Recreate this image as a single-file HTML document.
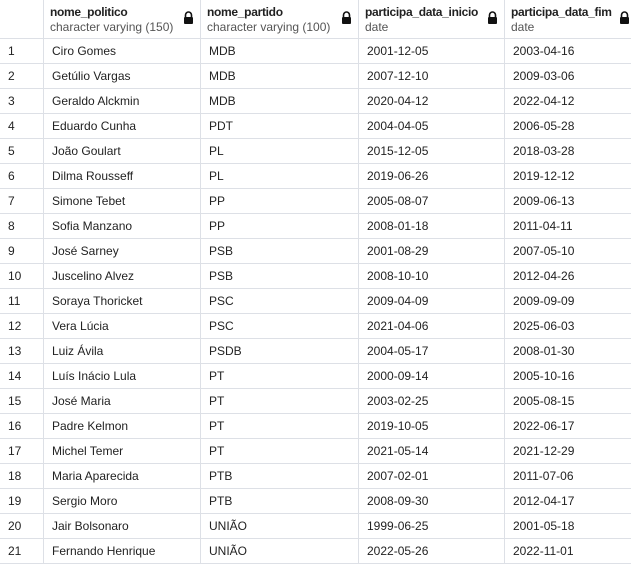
<!DOCTYPE html>
<html><head><meta charset="utf-8"><style>
body{margin:0;width:631px;height:563px;background:#fff;font-family:"Liberation Sans",Arial,sans-serif;overflow:hidden;position:relative}
.vl{position:absolute;top:0;bottom:0;width:1px;background:#dde0e6}
.hl{position:absolute;left:0;right:0;height:1px;background:#dde0e6}
.c{position:absolute;font-size:12px;color:#222;white-space:nowrap;line-height:14px}
.h1{font-weight:bold;font-size:12px;color:#222;letter-spacing:-0.3px}
.h2{color:#555}
.lock{position:absolute;width:11px;height:13px}
</style></head><body>
<div id="grid"></div>
<script>
const cols=[0,44,201,359,505];
const headers=[["nome_politico","character varying (150)"],["nome_partido","character varying (100)"],["participa_data_inicio","date"],["participa_data_fim","date"]];
const names=["Ciro Gomes","Getúlio Vargas","Geraldo Alckmin","Eduardo Cunha","João Goulart","Dilma Rousseff","Simone Tebet","Sofia Manzano","José Sarney","Juscelino Alvez","Soraya Thoricket","Vera Lúcia","Luiz Ávila","Luís Inácio Lula","José Maria","Padre Kelmon","Michel Temer","Maria Aparecida","Sergio Moro","Jair Bolsonaro","Fernando Henrique"];
const parties=["MDB","MDB","MDB","PDT","PL","PL","PP","PP","PSB","PSB","PSC","PSC","PSDB","PT","PT","PT","PT","PTB","PTB","UNIÃO","UNIÃO"];
const starts=["2001-12-05","2007-12-10","2020-04-12","2004-04-05","2015-12-05","2019-06-26","2005-08-07","2008-01-18","2001-08-29","2008-10-10","2009-04-09","2021-04-06","2004-05-17","2000-09-14","2003-02-25","2019-10-05","2021-05-14","2007-02-01","2008-09-30","1999-06-25","2022-05-26"];
const ends=["2003-04-16","2009-03-06","2022-04-12","2006-05-28","2018-03-28","2019-12-12","2009-06-13","2011-04-11","2007-05-10","2012-04-26","2009-09-09","2025-06-03","2008-01-30","2005-10-16","2005-08-15","2022-06-17","2021-12-29","2011-07-06","2012-04-17","2001-05-18","2022-11-01"];
const b=document.body;
function add(cls,css,txt){const d=document.createElement('div');d.className=cls;d.style.cssText=css;if(txt!==undefined)d.textContent=txt;b.appendChild(d);return d;}
for(let i=1;i<cols.length;i++){const v=add('vl','left:'+(cols[i]-1)+'px');

}
const h0=add('hl','top:38px');


for(let r=1;r<=names.length;r++){const l=add('hl','top:'+(38+r*25)+'px');

}
const lockSvg='<svg width="11" height="13" viewBox="0 0 11 13"><path d="M2.5 6V4a3 3 0 0 1 6 0v2" fill="none" stroke="#111" stroke-width="1.6"/><rect x="1" y="6" width="9" height="7" rx="1" fill="#111"/></svg>';
headers.forEach((h,i)=>{
 const t=add('c h1','left:'+(cols[i+1]+6)+'px;top:5px',h[0]);
 
 
 const s=add('c h2','left:'+(cols[i+1]+6)+'px;top:20px',h[1]);
 
 
 const nx=(i<3?cols[i+2]-18:619);
 const lk=add('lock','left:'+nx+'px;top:11px');lk.innerHTML=lockSvg;
 
 
});
const data=[names,parties,starts,ends];
for(let r=0;r<names.length;r++){
 const y=38+r*25+6;
 const n=add('c','left:8px;top:'+y+'px',String(r+1));
 
 
 for(let c=0;c<4;c++){
  const d=add('c','left:'+(cols[c+1]+8)+'px;top:'+y+'px',data[c][r]);
  
  
 }
}
</script>
</body></html>
